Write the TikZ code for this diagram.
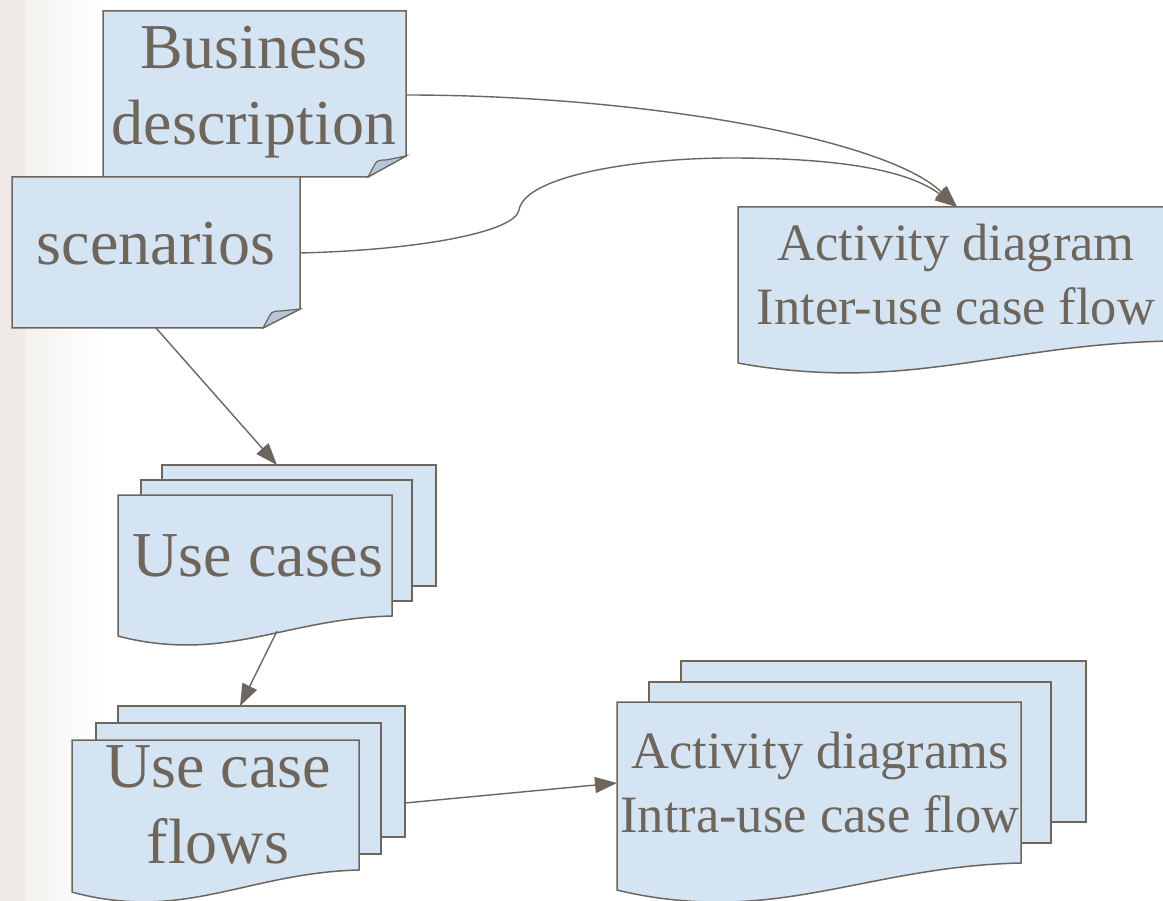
\documentclass[tikz,border=0pt]{standalone}
\usepackage{fontspec}
\setmainfont{Liberation Serif}
\usetikzlibrary{arrows.meta}
\definecolor{ink}{HTML}{6E665C}
\definecolor{paper}{HTML}{D5E4F3}
\definecolor{flap}{HTML}{B7C6D6}
\definecolor{edgeA}{HTML}{EFEAE8}
\definecolor{edgeB}{HTML}{F3F2EF}
\tikzset{
  box/.style={fill=paper, draw=ink, line width=1.5pt, line join=miter},
  flapfill/.style={fill=flap, draw=ink, line width=1.2pt},
  big/.style={text=ink, font=\fontsize{64}{76}\selectfont, align=center, inner sep=0pt, anchor=base},
  mid/.style={text=ink, font=\fontsize{52.5}{64}\selectfont, align=center, inner sep=0pt, anchor=base},
  conn/.style={draw=ink, line width=1.4pt, -{Triangle[length=22pt,width=16pt]}},
}
\newcommand\docshape[5]{%
  \filldraw[box] (#1,#2) -- (#3,#2) -- (#3,#4)
    .. controls ({#1+0.7*(#3-#1)},{#4+0.1*#5}) and ({#1+0.5*(#3-#1)},{#4+1.45*#5}) ..
    ({#1+0.25*(#3-#1)},{#4+1.45*#5})
    .. controls ({#1+0.17*(#3-#1)},{#4+1.45*#5}) and ({#1+0.08*(#3-#1)},{#4+1.3*#5}) ..
    (#1,{#4+#5}) -- cycle;}
\begin{document}
\begin{tikzpicture}[x=1pt,y=-1pt]
\useasboundingbox (0,0) rectangle (1163,901);
\clip (0,0) rectangle (1163,901);
\fill[white] (0,0) rectangle (1163,901);
% left slide edge
\fill[edgeA] (0,0) rectangle (25,901);
\shade[left color=edgeB, right color=white] (25,0) rectangle (105,901);

% Business description (note)
\filldraw[box] (103,11) -- (406,11) -- (406,156) -- (368,177) -- (103,177) -- cycle;
\filldraw[flapfill] (368,177) -- (375,164) .. controls (377,160) and (381,160) .. (386,160) -- (406,156) -- cycle;
\node[big] (bd) at (254,145) {Business\\description};

% scenarios (note)
\filldraw[box] (12,177) -- (300,177) -- (300,309) -- (263,328) -- (12,328) -- cycle;
\filldraw[flapfill] (263,328) -- (270,315) .. controls (272,311) and (276,311) .. (281,311) -- (300,309) -- cycle;
\node[big] (sc) at (156,265) {scenarios};

% Activity diagram (single document)
\docshape{738}{207}{1172}{341}{22}
\node[mid] (ad) at (956,325) {Activity diagram\\Inter-use case flow};

% Use cases (stack)
\filldraw[box] (162,465) rectangle (436,586);
\filldraw[box] (141,480) rectangle (412,601);
\docshape{118}{495}{392}{616}{20}
\node[big] (uc) at (258,576) {Use cases};

% Use case flows (stack)
\filldraw[box] (118,706) rectangle (405,837);
\filldraw[box] (96,723) rectangle (381,854);
\docshape{72}{740}{359}{870}{22}
\node[big] (ucf) at (218,863) {Use case\\flows};

% Activity diagrams (stack)
\filldraw[box] (681,661) rectangle (1086,822);
\filldraw[box] (649,682) rectangle (1051,843);
\docshape{617}{702}{1021}{863}{27}
\node[mid] (ads) at (820,832) {Activity diagrams\\Intra-use case flow};

% connection points
\coordinate (bdR) at (406,95);
\coordinate (scR) at (300,253);
\coordinate (scB) at (156,328);
\coordinate (adT) at (957,207);
\coordinate (ucT) at (277,465);
\coordinate (ucB) at (277,631);
\coordinate (ucfT) at (240,706);
\coordinate (ucfR) at (405,803);
\coordinate (adsL) at (617,783);

% connectors
\draw[conn] (scR) .. controls (420,250) and (515,232) .. (519,210)
   .. controls (525,175) and (640,158) .. (730,158)
   .. controls (830,158) and (905,168) .. (adT);
\draw[conn] (bdR) .. controls (640,95) and (885,138) .. (adT);
\draw[conn] (scB) -- (ucT);
\draw[conn] (ucB) -- (ucfT);
\draw[conn] (ucfR) -- (adsL);
\end{tikzpicture}
\end{document}
